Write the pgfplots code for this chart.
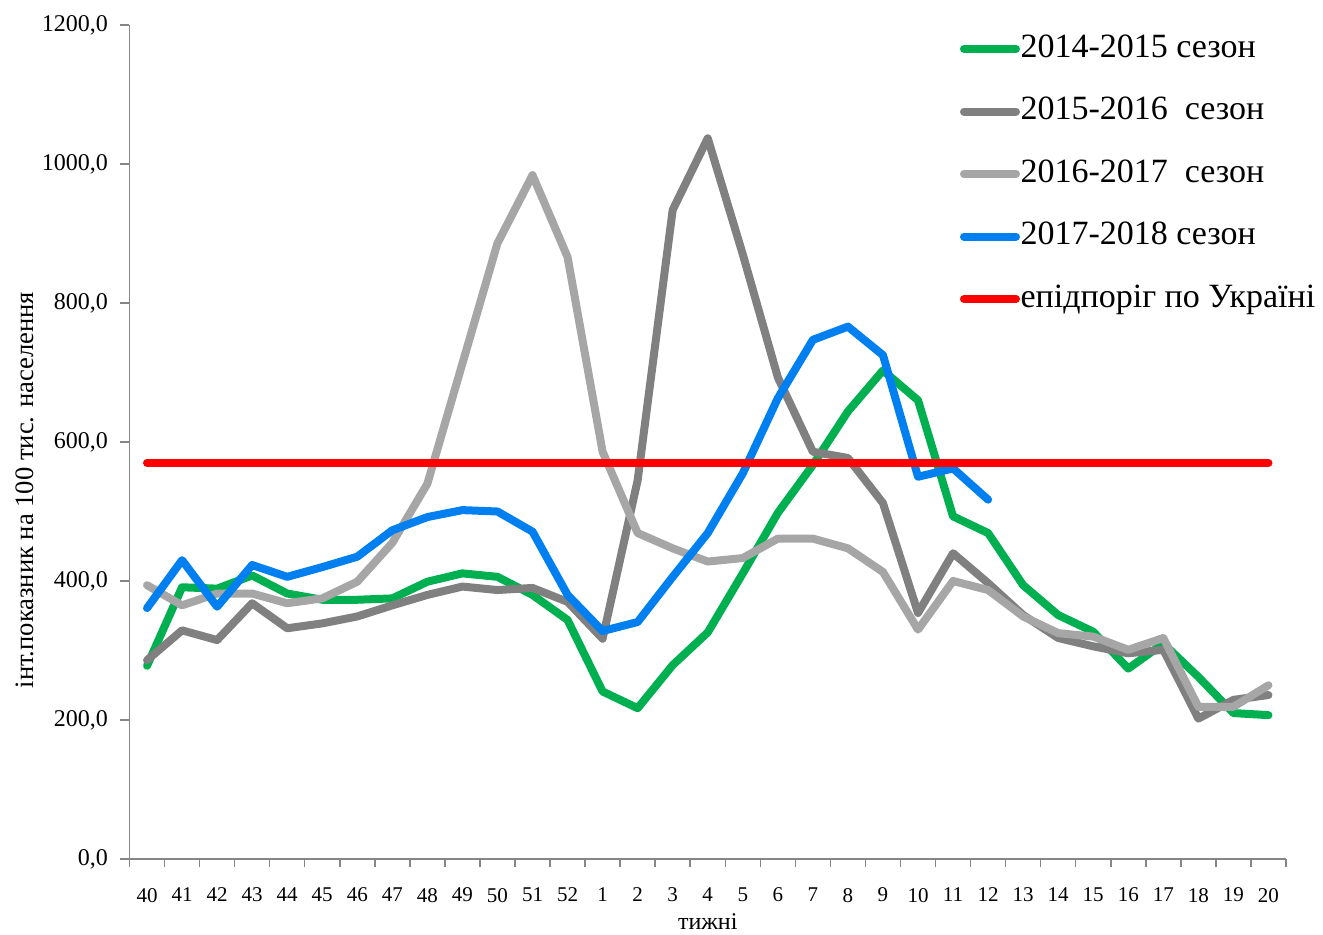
\documentclass[border=0pt]{standalone}
\usepackage{fontspec}
\setmainfont{Liberation Serif}
\usepackage{pgfplots}
\pgfplotsset{compat=1.18}
\definecolor{cgreen}{HTML}{00B050}
\definecolor{cdgray}{HTML}{808080}
\definecolor{clgray}{HTML}{A6A6A6}
\definecolor{cblue}{HTML}{0080F0}
\definecolor{cred}{HTML}{FF0000}
\definecolor{caxis}{HTML}{868686}
\begin{document}
\begin{tikzpicture}
\begin{axis}[
  at={(0,0)}, anchor=south west,
  scale only axis, width=578.25pt, height=417pt,
  xmin=-0.5, xmax=32.5, ymin=0, ymax=1200,
  axis lines*=left,
  axis line style={draw=caxis, line width=0.75pt},
  tick align=outside,
  xtick={0,...,32},
  xticklabels={40,41,42,43,44,45,46,47,48,49,50,51,52,1,2,3,4,5,6,7,8,9,10,11,12,13,14,15,16,17,18,19,20},
  minor xtick={-0.5,0.5,...,32.5},
  major x tick style={draw=none},
  minor x tick style={draw=caxis, line width=0.75pt},
  minor tick length=4pt,
  major tick length=4.5pt,
  ytick={0,200,...,1200},
  y tick style={draw=caxis, line width=0.75pt},
  /pgf/number format/assume math mode=true,
  yticklabel style={font=\fontsize{12}{14}\selectfont, xshift=-2.75pt,
    /pgf/number format/fixed, /pgf/number format/fixed zerofill,
    /pgf/number format/precision=1, /pgf/number format/use comma,
    /pgf/number format/1000 sep={}},
  xticklabel style={font=\fontsize{10.5}{12}\selectfont, yshift=-6.5pt},
  xlabel={тижні},
  xlabel style={at={(rel axis cs:0.5,-0.07554)}, anchor=center, font=\fontsize{12}{14}\selectfont},
  ylabel={інт.показник на 100 тис. населення},
  ylabel style={at={(rel axis cs:-0.0905,0.4424)}, anchor=center, rotate=0, font=\fontsize{13.3}{15}\selectfont},
  legend cell align=left,
  legend image code/.code={\draw[#1, line cap=round] (0pt,0pt) -- (26pt,0pt);},
  legend style={at={(rel axis cs:0.7181,0.9904)}, anchor=north west, draw=none, fill=none,
    inner sep=0pt, outer sep=0pt, row sep=15.25pt,
    font=\fontsize{17}{19}\selectfont,
    nodes={inner xsep=0.3pt, inner ysep=0pt, text height=12pt, text depth=4pt}},
  every axis plot/.append style={line width=4pt, line join=round, line cap=round, no markers},
]
\addplot[cgreen] coordinates {
(0,278)(1,391)(2,389)(3,408)(4,382)(5,373)(6,373)(7,375)(8,399)(9,411)(10,406)(11,380)(12,344)
(13,241)(14,217)(15,279)(16,326)(17,411)(18,498)(19,567)(20,644)(21,703)(22,660)(23,493)(24,469)
(25,394)(26,351)(27,327)(28,274)(29,310)(30,262)(31,210)(32,207)};
\addlegendentry{2014-2015 сезон}
\addplot[cdgray] coordinates {
(0,286)(1,329)(2,315)(3,368)(4,332)(5,339)(6,349)(7,365)(8,380)(9,392)(10,387)(11,390)(12,370)
(13,317)(14,545)(15,934)(16,1037)(17,870)(18,693)(19,586)(20,577)(21,512)(22,354)(23,440)(24,397)
(25,351)(26,318)(27,306)(28,296)(29,301)(30,202)(31,229)(32,236)};
\addlegendentry{2015-2016\ \ сезон}
\addplot[clgray] coordinates {
(0,394)(1,365)(2,382)(3,382)(4,368)(5,375)(6,399)(7,455)(8,540)(9,713)(10,886)(11,984)(12,866)
(13,586)(14,469)(15,447)(16,428)(17,433)(18,461)(19,461)(20,447)(21,413)(22,330)(23,400)(24,387)
(25,349)(26,325)(27,320)(28,301)(29,318)(30,219)(31,219)(32,250)};
\addlegendentry{2016-2017\ \ сезон}
\addplot[cblue] coordinates {
(0,361)(1,430)(2,363)(3,423)(4,406)(5,420)(6,435)(7,473)(8,492)(9,502)(10,500)(11,471)(12,380)
(13,328)(14,341)(15,406)(16,469)(17,555)(18,663)(19,747)(20,766)(21,725)(22,550)(23,562)(24,517)};
\addlegendentry{2017-2018 сезон}
\addplot[cred] coordinates {
(0,570)(1,570)(2,570)(3,570)(4,570)(5,570)(6,570)(7,570)(8,570)(9,570)(10,570)(11,570)(12,570)
(13,570)(14,570)(15,570)(16,570)(17,570)(18,570)(19,570)(20,570)(21,570)(22,570)(23,570)(24,570)
(25,570)(26,570)(27,570)(28,570)(29,570)(30,570)(31,570)(32,570)};
\addlegendentry{епідпоріг по Україні}
\end{axis}
\pgfresetboundingbox
\path (-64.75pt,-37.5pt) rectangle (596.75pt,429.5pt);
\end{tikzpicture}
\end{document}
